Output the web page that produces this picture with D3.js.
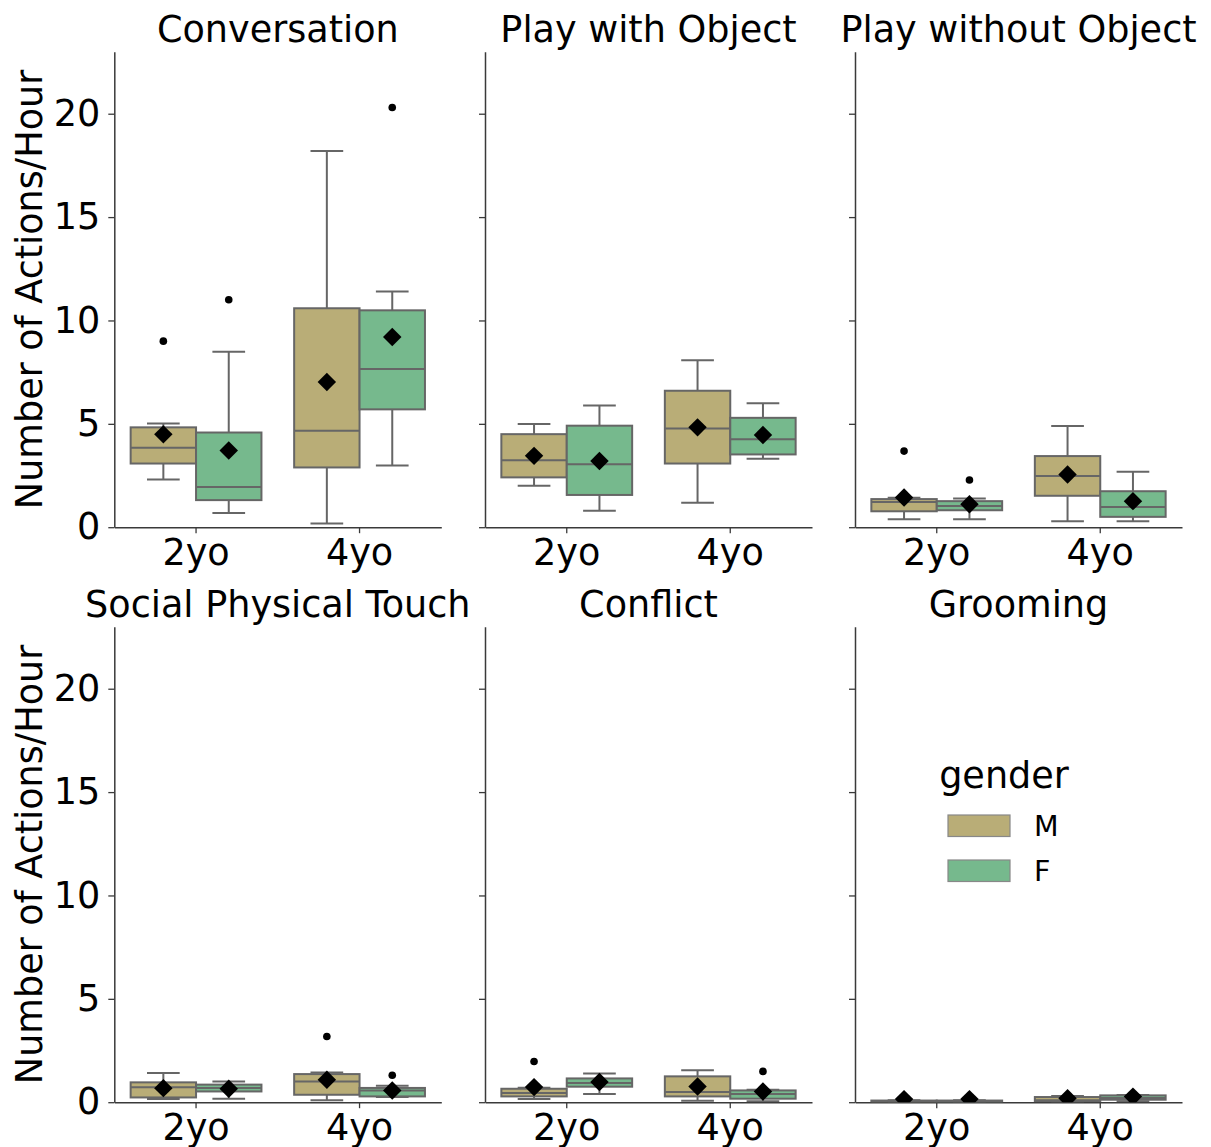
<!DOCTYPE html>
<html>
<head>
<meta charset="utf-8">
<script src="https://cdn.jsdelivr.net/npm/d3@7"></script>
<style>
  body { margin: 0; background: #fff; }
  text { font-family: "DejaVu Sans", sans-serif; fill: #000; }
</style>
</head>
<body>
<div id="chart"></div>
<script>
var panelTitles = ["Conversation", "Play with Object", "Play without Object",
                   "Social Physical Touch", "Conflict", "Grooming"];
var ages = ["2yo", "4yo"];
var genders = ["M", "F"];
var genderColors = ["#b9ad77", "#76b98d"];
var yTicks = [0, 5, 10, 15, 20];
var yLabel = "Number of Actions/Hour";

// box order: 2yo M, 2yo F, 4yo M, 4yo F
// [low whisker, q1, median, q3, high whisker]
var conversationBoxes = [[2.31, 3.08, 3.84, 4.83, 5.02], [0.69, 1.31, 1.95, 4.58, 8.49],
                         [0.18, 2.89, 4.67, 10.59, 18.2], [2.99, 5.70, 7.65, 10.49, 11.4]];
var conversationMeans = [4.49, 3.71, 7.02, 9.2];
var conversationOutliers = [[9.0], [11.0], [], [20.3]];

var playObjectBoxes = [[2.0, 2.41, 3.24, 4.50, 4.99], [0.79, 1.56, 3.05, 4.91, 5.89],
                       [1.18, 3.08, 4.78, 6.6, 8.07], [3.31, 3.52, 4.25, 5.29, 5.99]];
var playObjectMeans = [3.45, 3.2, 4.83, 4.46];
var playObjectOutliers = [[], [], [], []];

var playNoObjectBoxes = [[0.39, 0.77, 1.22, 1.36, 1.43], [0.39, 0.82, 1.03, 1.26, 1.39],
                         [0.29, 1.52, 2.48, 3.44, 4.9], [0.29, 0.50, 0.98, 1.74, 2.68]];
var playNoObjectMeans = [1.44, 1.11, 2.55, 1.26];
var playNoObjectOutliers = [[3.68], [2.28], [], []];

var touchBoxes = [[0.15, 0.23, 0.72, 0.96, 1.41], [0.17, 0.52, 0.69, 0.85, 1.0],
                  [0.09, 0.36, 1.0, 1.36, 1.44], [0.25, 0.28, 0.56, 0.69, 0.8]];
var touchMeans = [0.68, 0.65, 1.09, 0.57];
var touchOutliers = [[], [], [3.18], [1.3]];

var conflictBoxes = [[0.15, 0.28, 0.44, 0.65, 0.7], [0.4, 0.75, 0.93, 1.15, 1.39],
                     [0.07, 0.28, 0.49, 1.25, 1.54], [0.05, 0.17, 0.40, 0.57, 0.6]];
var conflictMeans = [0.73, 0.98, 0.76, 0.52];
var conflictOutliers = [[1.97], [], [], [1.49]];

var groomingBoxes = [[0, 0, 0.02, 0.08, 0.1], [0, 0, 0.02, 0.08, 0.1],
                     [0, 0.04, 0.1, 0.25, 0.3], [0.05, 0.12, 0.2, 0.33, 0.35]];
var groomingMeans = [0.15, 0.15, 0.19, 0.27];
var groomingOutliers = [[], [], [], []];

var allBoxes = [conversationBoxes, playObjectBoxes, playNoObjectBoxes, touchBoxes, conflictBoxes, groomingBoxes];
var allMeans = [conversationMeans, playObjectMeans, playNoObjectMeans, touchMeans, conflictMeans, groomingMeans];
var allOutliers = [conversationOutliers, playObjectOutliers, playNoObjectOutliers, touchOutliers, conflictOutliers, groomingOutliers];

var W = 1211, H = 1147,
    colX = [114.3, 485, 855],
    rowY = [51.7, 626.7],
    pw = 327, ph = 475.5,
    fs = 36.6,
    lineColor = "#666",
    spineColor = "#3a3a3a";

var svg = d3.select("#chart").append("svg")
  .attr("width", W).attr("height", H)
  .style("background", "#fff");

var defs = svg.append("defs");
defs.append("clipPath").attr("id", "panel-clip")
  .append("rect").attr("x", 0).attr("y", 0).attr("width", pw).attr("height", ph);

var y = d3.scaleLinear().domain([0, 23]).range([ph, 0]);
var x = d3.scaleBand().domain(ages).range([0, pw]);
var xg = d3.scaleBand().domain(genders).range([0, x.bandwidth() * 0.8]);
var bw = xg.bandwidth();

panelTitles.forEach(function(title, p) {
  var col = p % 3, row = Math.floor(p / 3);
  var g = svg.append("g").attr("transform", "translate(" + colX[col] + "," + rowY[row] + ")");

  // title
  g.append("text")
    .attr("x", pw / 2).attr("y", -10)
    .attr("text-anchor", "middle")
    .attr("font-size", fs)
    .text(title);

  // axes
  var yAxis = d3.axisLeft(y).tickValues(yTicks).tickSize(6).tickSizeOuter(0).tickPadding(8)
    .tickFormat(col === 0 ? d3.format("d") : function() { return ""; });
  var ya = g.append("g").call(yAxis);
  var xa = g.append("g").attr("transform", "translate(0," + ph + ")")
    .call(d3.axisBottom(x).tickSize(6).tickSizeOuter(0).tickPadding(6));
  [ya, xa].forEach(function(a) {
    a.attr("font-size", fs).attr("font-family", "DejaVu Sans, sans-serif");
    a.select(".domain").attr("stroke", spineColor).attr("stroke-width", 1.5);
    a.selectAll(".tick line").attr("stroke", spineColor).attr("stroke-width", 1.3);
    a.selectAll(".tick text").attr("fill", "#000");
  });

  if (col === 0) {
    svg.append("text")
      .attr("transform", "translate(42," + (rowY[row] + ph / 2) + ") rotate(-90)")
      .attr("text-anchor", "middle")
      .attr("font-size", fs)
      .text(yLabel);
  }

  var data = g.append("g").attr("clip-path", "url(#panel-clip)");

  allBoxes[p].forEach(function(s, i) {
    var age = ages[Math.floor(i / 2)], gi = i % 2;
    var bx = x(age) + x.bandwidth() * 0.1 + xg(genders[gi]);
    var cx = bx + bw / 2;
    var bg = data.append("g");

    bg.append("line").attr("x1", cx).attr("x2", cx)
      .attr("y1", y(s[0])).attr("y2", y(s[1]))
      .attr("stroke", lineColor).attr("stroke-width", 2);
    bg.append("line").attr("x1", cx).attr("x2", cx)
      .attr("y1", y(s[3])).attr("y2", y(s[4]))
      .attr("stroke", lineColor).attr("stroke-width", 2);
    bg.append("rect")
      .attr("x", bx).attr("width", bw)
      .attr("y", y(s[3])).attr("height", y(s[1]) - y(s[3]))
      .attr("fill", genderColors[gi])
      .attr("stroke", lineColor).attr("stroke-width", 2);
    bg.append("line").attr("x1", bx).attr("x2", bx + bw)
      .attr("y1", y(s[2])).attr("y2", y(s[2]))
      .attr("stroke", lineColor).attr("stroke-width", 2);
    [s[0], s[4]].forEach(function(v) {
      bg.append("line").attr("x1", cx - bw / 4).attr("x2", cx + bw / 4)
        .attr("y1", y(v)).attr("y2", y(v))
        .attr("stroke", lineColor).attr("stroke-width", 2);
    });

    bg.selectAll(".flier").data(allOutliers[p][i]).enter().append("circle")
      .attr("class", "flier")
      .attr("cx", cx).attr("cy", function(d) { return y(d); })
      .attr("r", 3.8).attr("fill", "#000");

    bg.append("path")
      .attr("d", d3.symbol().type(d3.symbolSquare).size(170)())
      .attr("transform", "translate(" + cx + "," + y(allMeans[p][i]) + ") rotate(45)")
      .attr("fill", "#000");
  });

  // legend in the last panel
  if (p === 5) {
    var lg = svg.append("g");
    lg.append("text").attr("x", 1004).attr("y", 788)
      .attr("text-anchor", "middle").attr("font-size", fs).text("gender");
    genders.forEach(function(gname, k) {
      lg.append("rect")
        .attr("x", 948).attr("y", 815 + k * 45).attr("width", 62).attr("height", 21.5)
        .attr("fill", genderColors[k]).attr("stroke", "#888").attr("stroke-width", 1.2);
      lg.append("text")
        .attr("x", 1034).attr("y", 835.5 + k * 45)
        .attr("font-size", 28.5).text(gname);
    });
  }
});
</script>
</body>
</html>
